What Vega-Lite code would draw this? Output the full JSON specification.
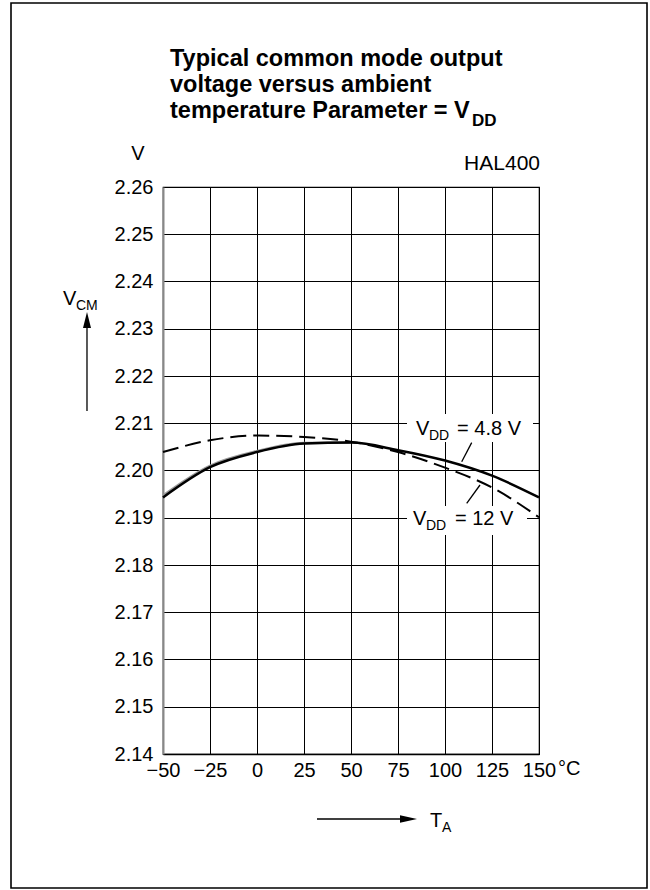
{
  "$schema": "https://vega.github.io/schema/vega-lite/v6.json",
  "autosize": {"type": "none"},
  "width": 376,
  "height": 567,
  "padding": {"left": 163, "top": 187, "right": 111, "bottom": 136},
  "background": "white",
  "config": {
    "font": "Liberation Sans",
    "view": {"stroke": "black", "strokeWidth": 1.2},
    "axis": {"labelFont": "Liberation Sans", "labelColor": "black", "gridColor": "black", "gridOpacity": 1, "gridWidth": 1, "ticks": false, "title": null}
  },
  "datasets": {
    "curves": [
      {"T": -50, "V": 2.1947, "series": "shadow"},
      {"T": -25, "V": 2.2010, "series": "shadow"},
      {"T": 0, "V": 2.2041, "series": "shadow"},
      {"T": 25, "V": 2.2058, "series": "shadow"},
      {"T": 50, "V": 2.2059, "series": "shadow"},
      {"T": -50, "V": 2.2039, "series": "VDD = 12 V"},
      {"T": -25, "V": 2.2064, "series": "VDD = 12 V"},
      {"T": 0, "V": 2.2074, "series": "VDD = 12 V"},
      {"T": 25, "V": 2.2071, "series": "VDD = 12 V"},
      {"T": 50, "V": 2.2061, "series": "VDD = 12 V"},
      {"T": 75, "V": 2.2039, "series": "VDD = 12 V"},
      {"T": 100, "V": 2.2006, "series": "VDD = 12 V"},
      {"T": 125, "V": 2.1964, "series": "VDD = 12 V"},
      {"T": 150, "V": 2.1901, "series": "VDD = 12 V"},
      {"T": -50, "V": 2.1943, "series": "VDD = 4.8 V"},
      {"T": -25, "V": 2.2007, "series": "VDD = 4.8 V"},
      {"T": 0, "V": 2.2039, "series": "VDD = 4.8 V"},
      {"T": 25, "V": 2.2057, "series": "VDD = 4.8 V"},
      {"T": 50, "V": 2.2059, "series": "VDD = 4.8 V"},
      {"T": 75, "V": 2.2043, "series": "VDD = 4.8 V"},
      {"T": 100, "V": 2.2021, "series": "VDD = 4.8 V"},
      {"T": 125, "V": 2.1989, "series": "VDD = 4.8 V"},
      {"T": 150, "V": 2.1943, "series": "VDD = 4.8 V"}
    ],
    "texts": [
      {"t": "Typical common mode output", "x": -46.28, "y": 2.28561, "role": "title"},
      {"t": "voltage versus ambient", "x": -46.28, "y": 2.28011, "role": "title"},
      {"t": "temperature Parameter = V", "x": -46.28, "y": 2.2746, "role": "title"},
      {"t": "DD", "x": 114.36, "y": 2.27291, "role": "titlesub"},
      {"t": "HAL400", "x": 150.53, "y": 2.2636, "role": "hal"},
      {"t": "V", "x": -63.3, "y": 2.26571, "role": "unit"},
      {"t": "V", "x": -103.19, "y": 2.23503, "role": "big"},
      {"t": "CM", "x": -96.28, "y": 2.23397, "role": "sub"},
      {"t": "V", "x": 84.57, "y": 2.2075, "role": "big"},
      {"t": "DD", "x": 91.49, "y": 2.20646, "role": "sub"},
      {"t": "= 4.8 V", "x": 106.4, "y": 2.2075, "role": "big"},
      {"t": "V", "x": 82.98, "y": 2.18847, "role": "big"},
      {"t": "DD", "x": 89.89, "y": 2.18741, "role": "sub"},
      {"t": "= 12 V", "x": 105.32, "y": 2.18847, "role": "big"},
      {"t": "T", "x": 92.02, "y": 2.12455, "role": "big"},
      {"t": "A", "x": 98.4, "y": 2.12349, "role": "sub"},
      {"t": "°C", "x": 160.1, "y": 2.13556, "role": "deg"}
    ],
    "boxes": [
      {"x": 79.79, "x2": 146.81, "y": 2.21196, "y2": 2.20603},
      {"x": 79.79, "x2": 143.62, "y": 2.19249, "y2": 2.18635}
    ],
    "leaders": [
      {"x": 114.2, "x2": 108.88, "y": 2.20589, "y2": 2.20186},
      {"x": 118.62, "x2": 111.54, "y": 2.19693, "y2": 2.19306},
      {"x": -90.43, "x2": -90.43, "y": 2.21259, "y2": 2.23058},
      {"x": 31.91, "x2": 77.13, "y": 2.12624, "y2": 2.12624}
    ],
    "heads": [
      {"x": -90.43, "y": 2.23185, "dir": "up"},
      {"x": 80.59, "y": 2.12624, "dir": "right"}
    ],
    "frame": [
      {"x": -130.85, "x2": 207.45, "y": 2.29894, "y2": 2.11164}
    ]
  },
  "layer": [
    {
      "data": {"name": "frame"},
      "mark": {"type": "rect", "fill": null, "stroke": "black", "strokeWidth": 1.6},
      "encoding": {
        "x": {"field": "x", "type": "quantitative", "scale": {"domain": [-50, 150], "nice": false, "zero": false},
          "axis": {"values": [-50, -25, 0, 25, 50, 75, 100, 125, 150], "labelExpr": "replace(datum.label, '-', '–')", "labelFontSize": 20, "labelPadding": 6, "labelFlush": false, "domainColor": "black", "domainWidth": 1.5}},
        "x2": {"field": "x2"},
        "y": {"field": "y", "type": "quantitative", "scale": {"domain": [2.14, 2.26], "nice": false, "zero": false},
          "axis": {"values": [2.14, 2.15, 2.16, 2.17, 2.18, 2.19, 2.2, 2.21, 2.22, 2.23, 2.24, 2.25, 2.26], "format": ".2f", "labelFontSize": 20, "labelPadding": 10, "labelFlush": false, "domainColor": "#888888", "domainWidth": 2}},
        "y2": {"field": "y2"}
      }
    },
    {
      "data": {"name": "boxes"},
      "mark": {"type": "rect", "fill": "white", "stroke": null},
      "encoding": {
        "x": {"field": "x", "type": "quantitative"},
        "x2": {"field": "x2"},
        "y": {"field": "y", "type": "quantitative"},
        "y2": {"field": "y2"}
      }
    },
    {
      "data": {"name": "curves"},
      "transform": [{"filter": "datum.series == 'shadow'"}],
      "mark": {"type": "line", "color": "#999999", "strokeWidth": 2.5, "interpolate": "monotone"},
      "encoding": {
        "x": {"field": "T", "type": "quantitative"},
        "y": {"field": "V", "type": "quantitative"}
      }
    },
    {
      "data": {"name": "curves"},
      "transform": [{"filter": "datum.series == 'VDD = 12 V'"}],
      "mark": {"type": "line", "color": "black", "strokeWidth": 2, "strokeDash": [16, 7], "interpolate": "monotone"},
      "encoding": {
        "x": {"field": "T", "type": "quantitative"},
        "y": {"field": "V", "type": "quantitative"}
      }
    },
    {
      "data": {"name": "curves"},
      "transform": [{"filter": "datum.series == 'VDD = 4.8 V'"}],
      "mark": {"type": "line", "color": "black", "strokeWidth": 2.5, "interpolate": "monotone"},
      "encoding": {
        "x": {"field": "T", "type": "quantitative"},
        "y": {"field": "V", "type": "quantitative"}
      }
    },
    {
      "data": {"name": "leaders"},
      "mark": {"type": "rule", "color": "black", "strokeWidth": 1.3},
      "encoding": {
        "x": {"field": "x", "type": "quantitative"},
        "x2": {"field": "x2"},
        "y": {"field": "y", "type": "quantitative"},
        "y2": {"field": "y2"}
      }
    },
    {
      "data": {"name": "heads"},
      "transform": [{"filter": "datum.dir == 'up'"}],
      "mark": {"type": "point", "shape": "M-0.5,1L0,-1L0.5,1Z", "size": 256, "filled": true, "color": "black", "opacity": 1},
      "encoding": {
        "x": {"field": "x", "type": "quantitative"},
        "y": {"field": "y", "type": "quantitative"}
      }
    },
    {
      "data": {"name": "heads"},
      "transform": [{"filter": "datum.dir == 'right'"}],
      "mark": {"type": "point", "shape": "M-1,-0.45L1,0L-1,0.45Z", "size": 289, "filled": true, "color": "black", "opacity": 1},
      "encoding": {
        "x": {"field": "x", "type": "quantitative"},
        "y": {"field": "y", "type": "quantitative"}
      }
    },
    {
      "data": {"name": "texts"},
      "transform": [{"filter": "datum.role == 'title'"}],
      "mark": {"type": "text", "align": "left", "baseline": "alphabetic", "font": "Liberation Sans", "fontWeight": "bold", "fontSize": 23.5, "color": "black"},
      "encoding": {
        "x": {"field": "x", "type": "quantitative"},
        "y": {"field": "y", "type": "quantitative"},
        "text": {"field": "t"}
      }
    },
    {
      "data": {"name": "texts"},
      "transform": [{"filter": "datum.role == 'titlesub'"}],
      "mark": {"type": "text", "align": "left", "baseline": "alphabetic", "font": "Liberation Sans", "fontWeight": "bold", "fontSize": 17, "color": "black"},
      "encoding": {
        "x": {"field": "x", "type": "quantitative"},
        "y": {"field": "y", "type": "quantitative"},
        "text": {"field": "t"}
      }
    },
    {
      "data": {"name": "texts"},
      "transform": [{"filter": "datum.role == 'big'"}],
      "mark": {"type": "text", "align": "left", "baseline": "alphabetic", "font": "Liberation Sans", "fontSize": 20, "color": "black"},
      "encoding": {
        "x": {"field": "x", "type": "quantitative"},
        "y": {"field": "y", "type": "quantitative"},
        "text": {"field": "t"}
      }
    },
    {
      "data": {"name": "texts"},
      "transform": [{"filter": "datum.role == 'sub'"}],
      "mark": {"type": "text", "align": "left", "baseline": "alphabetic", "font": "Liberation Sans", "fontSize": 14, "color": "black"},
      "encoding": {
        "x": {"field": "x", "type": "quantitative"},
        "y": {"field": "y", "type": "quantitative"},
        "text": {"field": "t"}
      }
    },
    {
      "data": {"name": "texts"},
      "transform": [{"filter": "datum.role == 'unit'"}],
      "mark": {"type": "text", "align": "center", "baseline": "alphabetic", "font": "Liberation Sans", "fontSize": 20, "color": "black"},
      "encoding": {
        "x": {"field": "x", "type": "quantitative"},
        "y": {"field": "y", "type": "quantitative"},
        "text": {"field": "t"}
      }
    },
    {
      "data": {"name": "texts"},
      "transform": [{"filter": "datum.role == 'hal'"}],
      "mark": {"type": "text", "align": "right", "baseline": "alphabetic", "font": "Liberation Sans", "fontSize": 21, "color": "black"},
      "encoding": {
        "x": {"field": "x", "type": "quantitative"},
        "y": {"field": "y", "type": "quantitative"},
        "text": {"field": "t"}
      }
    },
    {
      "data": {"name": "texts"},
      "transform": [{"filter": "datum.role == 'deg'"}],
      "mark": {"type": "text", "align": "left", "baseline": "alphabetic", "font": "Liberation Sans", "fontSize": 20, "color": "black"},
      "encoding": {
        "x": {"field": "x", "type": "quantitative"},
        "y": {"field": "y", "type": "quantitative"},
        "text": {"field": "t"}
      }
    }
  ]
}
